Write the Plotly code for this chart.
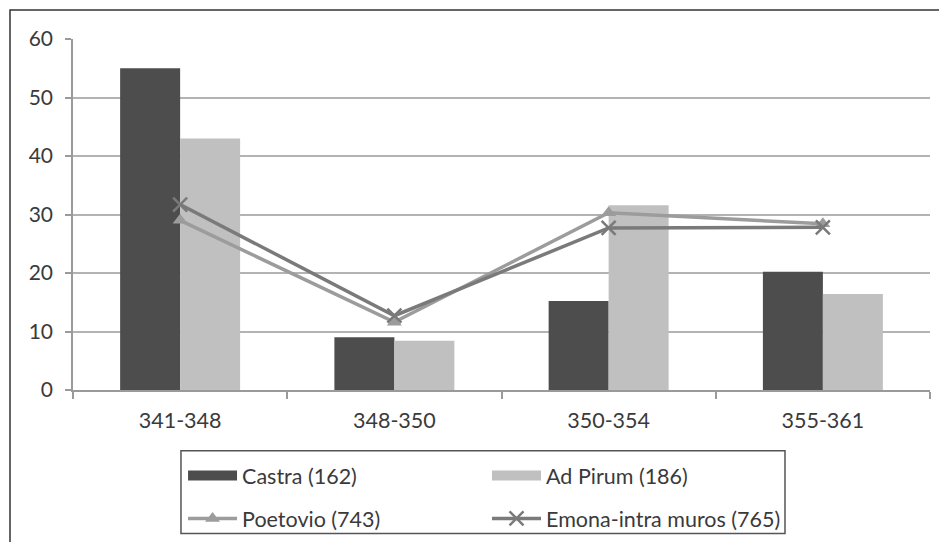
import plotly.graph_objects as go

categories = ["341-348", "348-350", "350-354", "355-361"]
castra = [55, 9.0, 15.2, 20.2]
ad_pirum = [43, 8.4, 31.6, 16.4]
poetovio = [29.0, 11.6, 30.3, 28.4]
emona = [31.7, 12.7, 27.7, 27.8]

y_ticks = [0, 10, 20, 30, 40, 50, 60]

FONT = "Lato, 'Open Sans', sans-serif"
TXT = "#3a3a3a"
C_CASTRA = "#4d4d4d"
C_ADPIRUM = "#c0c0c0"
C_POET = "#9c9c9c"
C_EMONA = "#7a7a7a"

fig = go.Figure()
fig.add_trace(go.Bar(x=categories, y=castra, name="Castra (162)", showlegend=False,
                     marker=dict(color=C_CASTRA, line=dict(width=0))))
fig.add_trace(go.Bar(x=categories, y=ad_pirum, name="Ad Pirum (186)", showlegend=False,
                     marker=dict(color=C_ADPIRUM, line=dict(width=0))))
fig.add_trace(go.Scatter(x=categories, y=poetovio, name="Poetovio (743)",
                         legend="legend", legendgroup="c",
                         mode="lines+markers",
                         line=dict(color=C_POET, width=3.5),
                         marker=dict(symbol="triangle-up", size=13, color=C_POET)))
fig.add_trace(go.Scatter(x=categories, y=emona, name="Emona-intra muros (765)",
                         legend="legend2", legendgroup="d",
                         mode="lines+markers",
                         line=dict(color=C_EMONA, width=3.5),
                         marker=dict(symbol="x-thin", size=14,
                                     line=dict(color=C_EMONA, width=2.5))))
# legend-only entries giving the wide rectangular swatches of the bar series
fig.add_trace(go.Scatter(x=[None], y=[None], name="Castra (162)", mode="lines",
                         legend="legend", legendgroup="a", legendrank=1,
                         line=dict(color=C_CASTRA, width=15), hoverinfo="skip"))
fig.add_trace(go.Scatter(x=[None], y=[None], name="Ad Pirum (186)", mode="lines",
                         legend="legend2", legendgroup="b", legendrank=1,
                         line=dict(color=C_ADPIRUM, width=15), hoverinfo="skip"))

legend_common = dict(orientation="v", xanchor="left", y=-0.1818, yanchor="top",
                     borderwidth=0, bgcolor="rgba(0,0,0,0)",
                     font=dict(family=FONT, size=21.5, color=TXT),
                     traceorder="grouped", tracegroupgap=12, itemwidth=49)

fig.update_layout(
    width=947, height=542,
    margin=dict(l=65, r=25, t=31, b=159),
    paper_bgcolor="white", plot_bgcolor="white",
    barmode="group", bargap=0.44, bargroupgap=0,
    font=dict(family=FONT, size=21, color=TXT),
    showlegend=True,
    legend=dict(x=0.1284, **legend_common),
    legend2=dict(x=0.4831, **legend_common),
    xaxis=dict(type="category", showgrid=False, showline=True, linecolor="#9a9a9a",
               linewidth=1.5, ticks="outside", tickson="boundaries", ticklen=7,
               tickcolor="#9a9a9a", tickwidth=1.5, tickfont=dict(size=21.5),
               ticklabelstandoff=10),
    yaxis=dict(range=[0, 60], tickvals=y_ticks, showgrid=True, gridcolor="#b3b3b3",
               gridwidth=1.5, showline=True, linecolor="#9a9a9a", linewidth=1.5,
               ticks="outside", ticklen=6, tickcolor="#9a9a9a", tickwidth=1.5,
               zeroline=False, tickfont=dict(size=21), ticklabelstandoff=8),
)

# outer chart frame
fig.add_shape(type="rect", xref="paper", yref="paper",
              x0=(10 - 73) / 857, x1=(946 - 73) / 857,
              y0=-0.6, y1=(391 - 10) / 352,
              line=dict(color="#333333", width=1.5), fillcolor="rgba(0,0,0,0)",
              layer="below")
# legend frame
fig.add_shape(type="rect", xref="paper", yref="paper",
              x0=0.126, x1=0.8308, y0=-0.4091, y1=-0.1733,
              line=dict(color="#555555", width=1.5), fillcolor="rgba(0,0,0,0)",
              layer="below")

fig.write_html("out.html")
